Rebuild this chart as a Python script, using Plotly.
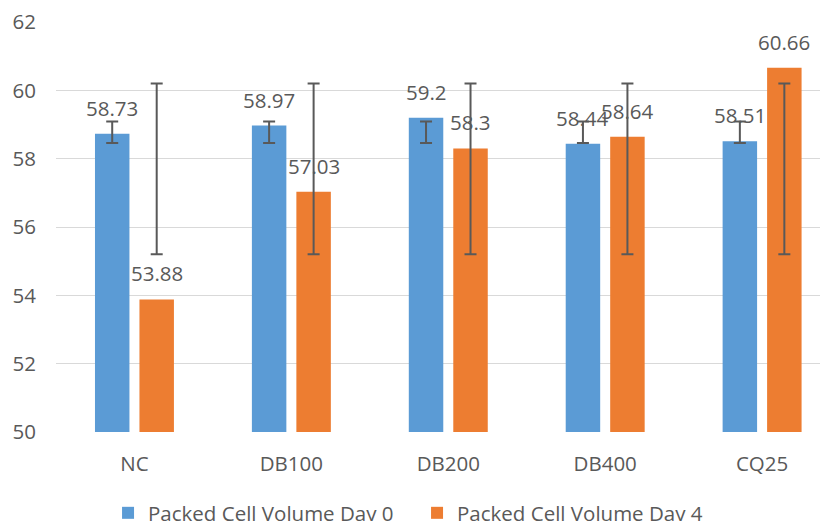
import plotly.graph_objects as go

categories = ["NC", "DB100", "DB200", "DB400", "CQ25"]
day0 = [58.73, 58.97, 59.2, 58.44, 58.51]
day4 = [53.88, 57.03, 58.3, 58.64, 60.66]
day0_err_lo = [58.46, 58.46, 58.46, 58.46, 58.46]
day0_err_hi = [59.09, 59.09, 59.09, 59.09, 59.09]
day4_err_lo = [55.2, 55.2, 55.2, 55.2, 55.2]
day4_err_hi = [60.2, 60.2, 60.2, 60.2, 60.2]
y_ticks = [50, 52, 54, 56, 58, 60, 62]

BLUE = "#5B9BD5"
ORANGE = "#ED7D31"
TEXT = "#595959"
FONT = "Open Sans"
FS = 20.5

bargap = 0.433
bargroupgap = 0.225
slot = (1 - bargap) / 2
offs = [-slot / 2, slot / 2]

xs = list(range(len(categories)))

fig = go.Figure()
series = [
    ("Packed Cell Volume Day 0", day0, day0_err_lo, day0_err_hi, BLUE),
    ("Packed Cell Volume Day 4", day4, day4_err_lo, day4_err_hi, ORANGE),
]
for name, vals, lo, hi, col in series:
    fig.add_trace(go.Bar(x=xs, y=vals, name=name, marker=dict(color=col, line=dict(width=0)),
                         hoverinfo="y"))

annotations = []
for k, (name, vals, lo, hi, col) in enumerate(series):
    ex = [x + offs[k] for x in xs]
    mid = [(a + b) / 2 for a, b in zip(lo, hi)]
    half = [(b - a) / 2 for a, b in zip(lo, hi)]
    fig.add_trace(go.Scatter(x=ex, y=mid, mode="markers", marker=dict(opacity=0, size=1),
                             showlegend=False, hoverinfo="skip",
                             error_y=dict(type="data", array=half, symmetric=True,
                                          color=TEXT, thickness=2, width=6)))
    for x, v in zip(ex, vals):
        annotations.append(dict(x=x, y=v, text=f"{v:g}", showarrow=False, yshift=26,
                                yanchor="middle", xanchor="center",
                                font=dict(family=FONT, size=FS, color=TEXT)))

fig.update_layout(
    width=820, height=513,
    margin=dict(l=48, r=0, t=14, b=89, autoexpand=False),
    paper_bgcolor="white", plot_bgcolor="white",
    barmode="group", bargap=bargap, bargroupgap=bargroupgap,
    font=dict(family=FONT, size=FS, color=TEXT),
    showlegend=True,
    legend=dict(orientation="h", x=0.122, xanchor="left", xref="container",
                y=0.0156, yanchor="middle", yref="container",
                font=dict(family=FONT, size=FS, color=TEXT),
                entrywidth=264, entrywidthmode="pixels"),
    annotations=annotations,
)
fig.update_xaxes(range=[-0.5, 4.42], tickvals=xs, ticktext=categories, showgrid=False,
                 zeroline=False, showline=False, ticks="", ticklabelstandoff=17,
                 ticklabeloverflow="allow",
                 automargin=False, tickfont=dict(family=FONT, size=FS, color=TEXT))
fig.update_yaxes(range=[50, 62], tickvals=y_ticks, showgrid=True, gridcolor="#D9D9D9",
                 gridwidth=1.3, zeroline=False, showline=False, ticks="",
                 ticklabeloverflow="allow",
                 automargin=False, ticklabelstandoff=19,
                 tickfont=dict(family=FONT, size=FS, color=TEXT))

fig.write_html("out.html")
